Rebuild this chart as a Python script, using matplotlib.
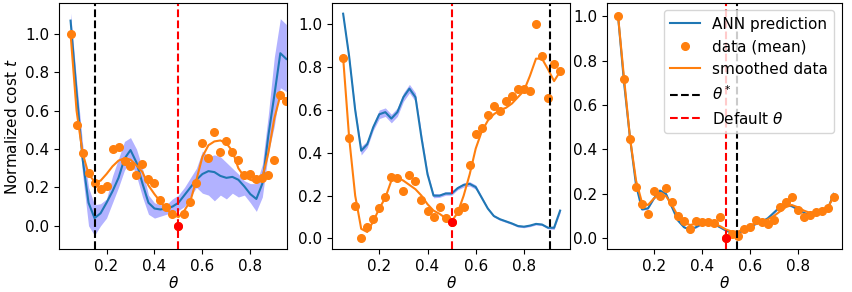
import matplotlib
matplotlib.use('Agg')
import matplotlib.pyplot as plt

plt.rcParams['font.size'] = 11

# sampled theta values (37 runs, step 0.025)
theta = [0.05, 0.075, 0.1, 0.125, 0.15, 0.175, 0.2, 0.225, 0.25, 0.275,
         0.3, 0.325, 0.35, 0.375, 0.4, 0.425, 0.45, 0.475, 0.5, 0.525,
         0.55, 0.575, 0.6, 0.625, 0.65, 0.675, 0.7, 0.725, 0.75, 0.775,
         0.8, 0.825, 0.85, 0.875, 0.9, 0.925, 0.95]
default_theta = 0.5
theta_star = [0.15, 0.91, 0.545]

# ---- panel 1
data_1 = [1.0, 0.525, 0.377, 0.277, 0.224, 0.191, 0.21, 0.403, 0.412, 0.339,
          0.311, 0.264, 0.32, 0.243, 0.221, 0.134, 0.096, 0.064, 0.0, 0.063,
          0.123, 0.224, 0.43, 0.351, 0.489, 0.386, 0.44, 0.384, 0.341, 0.263,
          0.27, 0.243, 0.247, 0.266, 0.341, 0.683, 0.652]
smooth_1 = [1.0, 0.6, 0.38, 0.27, 0.23, 0.235, 0.27, 0.31, 0.34, 0.352,
            0.345, 0.315, 0.28, 0.21, 0.165, 0.125, 0.085, 0.06, 0.045, 0.08,
            0.13, 0.24, 0.36, 0.42, 0.44, 0.445, 0.43, 0.39, 0.3, 0.255,
            0.24, 0.23, 0.25, 0.38, 0.56, 0.68, 0.66]
ann_1 = [1.07, 0.7, 0.35, 0.12, 0.04, 0.065, 0.12, 0.18, 0.25, 0.35,
         0.395, 0.33, 0.22, 0.12, 0.09, 0.085, 0.09, 0.1, 0.12, 0.16,
         0.2, 0.24, 0.27, 0.285, 0.28, 0.26, 0.25, 0.255, 0.24, 0.205,
         0.165, 0.14, 0.22, 0.47, 0.68, 0.9, 0.87]
ann_lo_1 = [1.02, 0.64, 0.27, 0.0, -0.05, 0.0, 0.04, 0.12, 0.2, 0.29,
            0.34, 0.26, 0.15, 0.06, 0.04, 0.05, 0.06, 0.07, 0.08, 0.1,
            0.15, 0.2, 0.17, 0.16, 0.13, 0.16, 0.14, 0.17, 0.15, 0.16,
            0.12, 0.075, 0.15, 0.38, 0.52, 0.72, 0.7]
ann_hi_1 = [1.11, 0.76, 0.43, 0.2, 0.11, 0.115, 0.14, 0.26, 0.35, 0.44,
            0.46, 0.4, 0.3, 0.16, 0.12, 0.11, 0.11, 0.14, 0.16, 0.2,
            0.25, 0.3, 0.39, 0.36, 0.37, 0.36, 0.33, 0.3, 0.27, 0.235,
            0.22, 0.22, 0.32, 0.58, 0.88, 1.08, 1.05]

# ---- panel 2
data_2 = [0.845, 0.471, 0.152, 0.0, 0.055, 0.09, 0.141, 0.192, 0.289, 0.281,
          0.222, 0.298, 0.267, 0.18, 0.129, 0.102, 0.145, 0.094, 0.079, 0.129,
          0.145, 0.344, 0.487, 0.515, 0.575, 0.62, 0.597, 0.644, 0.667, 0.697,
          0.697, 0.69, 1.0, 0.853, 0.658, 0.815, 0.783]
smooth_2 = [0.845, 0.47, 0.2, 0.045, 0.03, 0.08, 0.14, 0.19, 0.27, 0.285,
            0.27, 0.25, 0.23, 0.2, 0.16, 0.13, 0.115, 0.095, 0.08, 0.12,
            0.2, 0.3, 0.42, 0.5, 0.55, 0.58, 0.6, 0.61, 0.63, 0.66,
            0.69, 0.76, 0.84, 0.84, 0.79, 0.735, 0.78]
ann_2 = [1.05, 0.85, 0.6, 0.41, 0.44, 0.52, 0.58, 0.59, 0.56, 0.59,
         0.66, 0.7, 0.66, 0.47, 0.3, 0.2, 0.2, 0.21, 0.21, 0.235,
         0.25, 0.255, 0.24, 0.19, 0.14, 0.105, 0.09, 0.08, 0.07, 0.058,
         0.055, 0.06, 0.068, 0.065, 0.05, 0.05, 0.13]
ann_err_2 = [0.005, 0.01, 0.015, 0.02, 0.015, 0.015, 0.02, 0.02, 0.02, 0.02,
             0.02, 0.02, 0.02, 0.02, 0.015, 0.01, 0.008, 0.008, 0.008, 0.008,
             0.01, 0.01, 0.01, 0.008, 0.006, 0.005, 0.005, 0.005, 0.005, 0.005,
             0.005, 0.005, 0.005, 0.005, 0.005, 0.008, 0.01]

# ---- panel 3
data_3 = [1.0, 0.716, 0.447, 0.233, 0.155, 0.108, 0.213, 0.192, 0.228, 0.165,
          0.101, 0.078, 0.042, 0.078, 0.074, 0.075, 0.068, 0.095, 0.0, 0.02,
          0.011, 0.041, 0.053, 0.083, 0.075, 0.065, 0.083, 0.14, 0.162, 0.188,
          0.128, 0.098, 0.105, 0.119, 0.125, 0.135, 0.185]
smooth_3 = [1.0, 0.72, 0.45, 0.26, 0.16, 0.15, 0.18, 0.2, 0.19, 0.15,
            0.1, 0.07, 0.06, 0.065, 0.07, 0.07, 0.065, 0.055, 0.04, 0.03,
            0.03, 0.04, 0.055, 0.07, 0.075, 0.085, 0.1, 0.12, 0.14, 0.15,
            0.14, 0.125, 0.115, 0.115, 0.12, 0.135, 0.19]
ann_3 = [1.0, 0.7, 0.45, 0.24, 0.13, 0.135, 0.18, 0.215, 0.2, 0.14,
         0.08, 0.05, 0.038, 0.05, 0.065, 0.07, 0.065, 0.05, 0.035, 0.025,
         0.025, 0.035, 0.05, 0.065, 0.075, 0.09, 0.115, 0.14, 0.15, 0.145,
         0.13, 0.115, 0.105, 0.11, 0.125, 0.13, 0.2]
ann_err_3 = [0.004] * 37


def draw_panel(ax, ann, lo, hi, data, smooth, t_star, idx_default):
    ax.fill_between(theta, lo, hi, color='b', alpha=0.3, linewidth=0)
    ax.plot(theta, ann, color='tab:blue', lw=1.5, label='ANN prediction')
    ax.plot(theta, data, 'o', color='tab:orange', ms=5.5, label='data (mean)')
    ax.plot(theta, smooth, color='tab:orange', lw=1.5, label='smoothed data')
    ax.axvline(t_star, color='k', ls='--', lw=1.5, label=r'$\theta^*$')
    ax.axvline(default_theta, color='r', ls='--', lw=1.5, label=r'Default $\theta$')
    ax.plot(default_theta, data[idx_default], 'o', color='r', ms=5.5)
    ax.set_xlabel(r'$\theta$', labelpad=1)
    ax.set_xticks([0.2, 0.4, 0.6, 0.8])


fig = plt.figure(figsize=(8.52, 2.92), dpi=100)
ax1 = fig.add_axes([0.0696, 0.146, 0.2673, 0.8425])
ax2 = fig.add_axes([0.390, 0.146, 0.279, 0.8445])
ax3 = fig.add_axes([0.7121, 0.146, 0.2762, 0.8445])

i_def = theta.index(default_theta)

draw_panel(ax1, ann_1, ann_lo_1, ann_hi_1, data_1, smooth_1, theta_star[0], i_def)
draw_panel(ax2, ann_2, [a - e for a, e in zip(ann_2, ann_err_2)],
           [a + e for a, e in zip(ann_2, ann_err_2)], data_2, smooth_2,
           theta_star[1], i_def)
draw_panel(ax3, ann_3, [a - e for a, e in zip(ann_3, ann_err_3)],
           [a + e for a, e in zip(ann_3, ann_err_3)], data_3, smooth_3,
           theta_star[2], i_def)

ax1.set_xlim(0.003, 0.953)
ax1.set_ylim(-0.123, 1.16)
ax2.set_xlim(0.005, 0.991)
ax2.set_ylim(-0.051, 1.101)
ax3.set_xlim(0.0025, 0.985)
ax3.set_ylim(-0.05, 1.061)

ax1.set_ylabel('Normalized cost $t$')
ax3.legend(loc='upper right')

fig.savefig('out.png', dpi=100)
